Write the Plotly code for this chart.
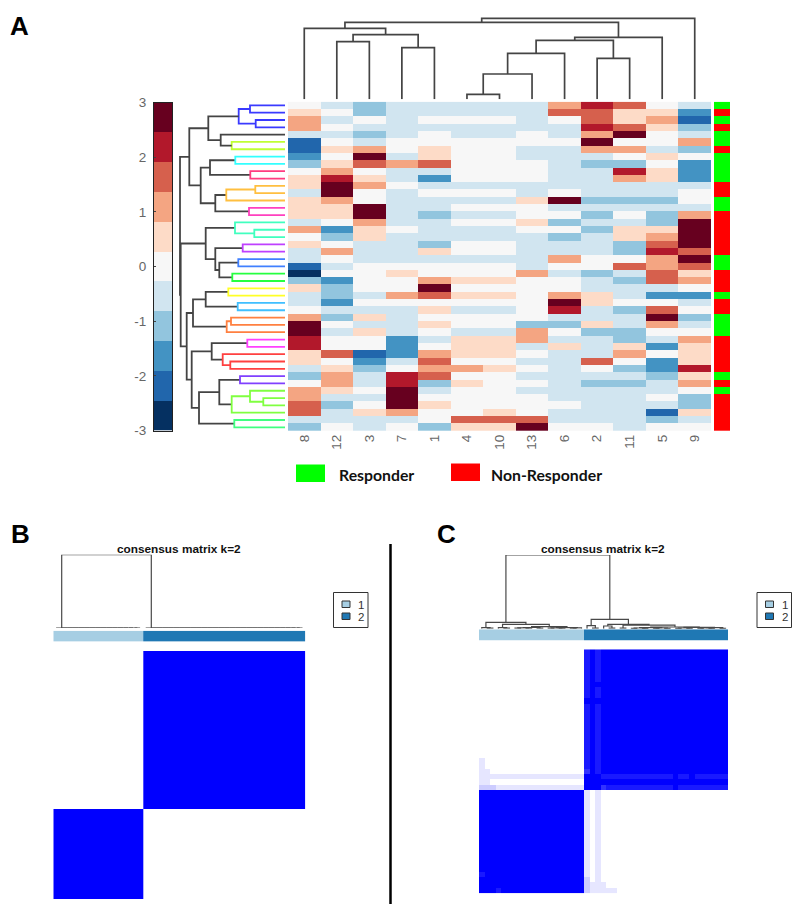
import plotly.graph_objects as go

W, H = 800, 914

# ---------- Panel A data ----------
COLUMN_LABELS = ["8", "12", "3", "7", "1", "4", "10", "13", "6", "2", "11", "5", "9"]
HEAT = [
    [0, -1, -2, -1, -1, -1, -1, -1, 2, 4, 3, 0, -1],
    [1, 0, -2, -1, -1, -1, -1, -1, 3, 3, 1, 1, -3],
    [2, -1, 0, -1, 0, 0, 0, -1, 0, 3, 1, 2, -4],
    [2, 0, -1, -1, -1, -1, -1, -1, -1, 4, 3, 1, -2],
    [-1, -1, -2, -1, 0, -1, -1, 0, -1, 2, 5, 0, -1],
    [-4, 0, -1, 0, 0, 0, 0, 0, 0, 5, 0, 0, 2],
    [-4, 1, 2, 0, 1, 0, 0, -1, -1, 2, 2, -1, -2],
    [-3, 0, 5, -1, 1, 0, 0, -1, -1, -1, 0, 1, 0],
    [-2, 1, 3, 2, 3, 0, 0, 0, -1, -2, -2, 0, -3],
    [0, 2, 0, -1, -1, 0, 0, 0, -1, -1, 4, 1, -3],
    [1, 4, 1, -1, -3, 0, 0, 0, -1, -1, 2, 1, -3],
    [1, 5, 2, 0, -1, -1, -1, -1, -1, -1, -1, -1, -1],
    [-1, 5, 0, -1, 0, 0, 0, -1, 0, -1, -1, -1, 0],
    [1, 2, 0, -1, -1, -1, -1, 1, 5, -2, -2, -2, 0],
    [1, 1, 5, -1, -1, 0, 0, 0, -1, -1, -1, -1, -1],
    [1, 1, 5, -1, -2, -1, -1, 0, 0, -2, 0, -2, 2],
    [-1, 0, 2, -1, -1, 0, 0, 1, -2, -1, -1, -2, 5],
    [2, -3, 1, 0, -1, -1, -1, 0, 0, -2, 1, 1, 5],
    [0, -2, 1, -1, -1, -1, -1, -1, -2, -1, 1, 2, 5],
    [1, 0, -1, -1, -2, 0, 0, -1, -1, -1, -2, 3, 5],
    [-1, 2, -1, -1, 1, 0, 0, -1, -1, -1, -2, 4, 3],
    [-1, 0, -1, -1, -1, -1, -1, -1, 2, 0, 0, 2, 5],
    [-4, -1, 0, 0, 0, 0, 0, -1, 0, 0, 3, 2, 3],
    [-5, 0, 0, 1, 0, 0, 0, 2, -1, -2, -1, 3, 1],
    [-2, -3, 0, 0, 2, 1, 1, 0, 0, -1, -2, 3, 2],
    [1, -2, 0, 0, 5, 0, 0, 0, 0, -1, -1, -1, 0],
    [-1, -2, -1, 2, 3, 1, 1, 0, 2, 1, -1, -3, -3],
    [-1, -3, 0, 0, 0, 0, 0, 0, 5, 1, 0, 0, -1],
    [0, -1, -1, -1, 1, -1, -1, 0, 4, -1, -2, 3, 0],
    [2, -2, 1, -1, 0, 0, 0, 0, -1, -1, -1, 5, -2],
    [5, 0, -1, -1, 1, 0, 0, -2, -2, 1, -1, 2, -1],
    [5, -1, 1, -1, 0, -1, -1, 2, 0, -2, -2, 0, 0],
    [4, 0, 0, -3, -1, 1, 1, 2, -1, -1, -2, -1, 2],
    [4, 0, 0, -3, 0, 1, 1, -1, 1, -1, 1, -3, 1],
    [1, 3, -4, -3, 2, 1, 1, 0, -1, -1, 2, 0, 1],
    [1, 0, -3, -1, 3, 0, 0, -1, -1, 3, 0, -3, 1],
    [-1, 1, -2, 0, 2, 2, 1, 0, -1, 0, -2, -3, 4],
    [-2, 2, -1, 4, 3, 0, 0, -1, -1, -1, -1, -2, 1],
    [0, 2, -1, 4, -2, 1, 0, 0, -1, -2, -2, -1, 2],
    [2, 1, 0, 5, -1, 0, 0, -1, -1, -1, -1, -1, 0],
    [2, -1, -1, 5, 0, 0, 0, 0, -1, -1, -1, 0, -2],
    [3, -2, 0, 5, 1, 0, 0, 0, 0, -1, -1, -1, -2],
    [3, -1, 1, 2, 0, 0, 1, 0, -1, -1, -1, -4, 1],
    [-1, -1, -1, -1, 0, 3, 3, 3, -1, -1, -1, -2, -1],
    [-2, 0, -1, 0, -2, 1, 1, 5, 0, 0, -1, 0, 0],
]
RESPONSE = [1, 0, 1, 0, 1, 1, 0, 1, 1, 1, 1, 0, 0, 1, 1, 0, 0, 0, 0, 0, 0, 1, 1,
            0, 0, 0, 1, 0, 0, 1, 1, 1, 0, 0, 0, 0, 0, 1, 0, 1, 0, 0, 0, 0, 0]
LEVELS = [-5, -4, -3, -2, -1, 0, 1, 2, 3, 4, 5]
SCALE_TICKS = [-3, -2, -1, 0, 1, 2, 3]
RDBU = ["#053061", "#2166ac", "#4393c3", "#92c5de", "#d1e5f0", "#f7f7f7",
        "#fddbc7", "#f4a582", "#d6604d", "#b2182b", "#67001f"]

DK = "#444444"
BL, LM, CY, PK, OR, MG, TL, PU, B2, GR, YL, SK, O2, M2, RD, VI, LG, G2 = (
    "#3a3aff", "#bfff33", "#33ffff", "#ff3d80", "#ffbf40", "#ff40bf", "#40ffbf", "#bf40ff",
    "#4080ff", "#26ff40", "#ffff26", "#40bfff", "#ff8040", "#ff40ff", "#ff4040", "#8040ff",
    "#80ff40", "#40ff80")
ROW_A = [0, 2, 45, 5, 4, 47, 7, 9, 51, 11, 54, 14, 55, 53, 50, 17, 16, 19, 21, 23, 63, 62,
         61, 25, 27, 68, 29, 71, 70, 32, 35, 34, 74, 37, 40, 39, 80, 78, 43, 82, 77, 73, 67, 59]
ROW_B = [1, 3, 46, 6, 48, 49, 8, 10, 52, 12, 13, 15, 56, 57, 58, 18, 60, 20, 22, 24, 64, 65,
         66, 26, 28, 69, 30, 31, 72, 33, 36, 75, 76, 38, 41, 79, 42, 81, 44, 83, 84, 85, 86, 87]
ROW_H = [35, 29.3, 46.3, 53.3, 64.3, 76.7, 49.7, 34.7, 75, 29.7, 58.7, 36, 69.7, 84.3, 95.7,
         30.7, 50, 42.3, 46.7, 52.7, 65.7, 69.7, 79.3, 56.7, 47.3, 79.3, 54, 58.3, 92, 37.7,
         54.7, 62.3, 73.3, 45, 21.7, 35, 53.3, 65.7, 50.7, 86, 93.3, 98.3, 104.3, 105]
ROW_C = [BL, BL, BL, LM, DK, DK, CY, PK, DK, OR, OR, MG, DK, DK, DK, TL, TL, PU, B2, GR, DK, DK,
         DK, YL, SK, DK, O2, O2, DK, M2, RD, RD, DK, VI, LG, LG, LG, DK, G2, DK, DK, DK, DK, DK]

COL_A = [1, 3, 13, 0, 5, 17, 18, 9, 19, 21, 16, 23]
COL_B = [2, 4, 14, 15, 6, 7, 8, 10, 20, 11, 22, 12]
COL_H = [57.7, 51.7, 64.7, 71, 5, 25.3, 46, 41, 59, 62, 77, 81]

# ---------- Panels B and C data ----------
CLUSTER_SIZES_B = [16, 29]
CLUSTER_SIZES_C = [19, 26]
BLOCK_Z = [[1, 0], [0, 1]]
BLOCK_Y_EDGES = [0, 16.28, 45]
B_A = [14, 13, 12, 11, 10, 9, 8, 7, 6, 5, 4, 3, 2, 1, 0,
       43, 42, 41, 40, 39, 38, 37, 36, 35, 34, 33, 32, 31, 30, 29, 28, 27, 26, 25, 24, 23, 22,
       21, 20, 19, 18, 17, 16, 59]
B_B = [15, 45, 46, 47, 48, 49, 50, 51, 52, 53, 54, 55, 56, 57, 58,
       44, 60, 61, 62, 63, 64, 65, 66, 67, 68, 69, 70, 71, 72, 73, 74, 75, 76, 77, 78, 79, 80,
       81, 82, 83, 84, 85, 86, 87]
B_H = [0] * 43 + [73.3]

C_A = [1, 0, 4, 3, 6, 8, 49, 10, 51, 12, 14, 54, 16, 18, 56, 53, 48, 46,
       20, 19, 23, 22, 25, 27, 29, 68, 31, 33, 71, 70, 35, 37, 75, 39, 41, 78, 43, 80, 77, 74,
       67, 66, 64, 62]
C_B = [2, 45, 5, 47, 7, 9, 50, 11, 52, 13, 15, 55, 17, 57, 58, 59, 60, 61,
       21, 63, 24, 65, 26, 28, 30, 69, 32, 34, 72, 73, 36, 38, 76, 40, 42, 79, 44, 81, 82, 83,
       84, 85, 86, 87]
C_H = [.6, 1, .6, 1, .5, .5, .8, .5, 1.2, .5, .5, .8, .5, .8, 1, 2, 4.3, 6.3,
       .6, 3, .6, 2.7, .6, .4, .4, .7, .4, .4, .7, 1, .4, .4, .7, .4, .4, .7, .4, 1, 1.3, 1.7,
       3.5, 4.3, 9.3, 73.7]

C_SAMPLE_19 = [.2, .2, .2, .1, .1, .1, .1, .1, .1, .1, .1, .1, .1, .1, .1, .1, .1, .1, .1,
               1, 1, 1, .8, .9, .9, .9, .9, .9, .9, .9, .9, .9, .9, .9, .9, 1, .9, .9, .9, .9,
               .9, .9, .9, .9, .9]
C_SAMPLE_21 = [.1, .1, .1, .1, .1, .1, .1, .1, .1, .1, .1, .1, .1, .1, .1, .1, .1, .1, .1,
               1, 1, 1, .9, .9, .9, .9, .9, .9, .9, .9, .9, .9, .9, .9, .9, 1, .9, .9, 1, .9,
               .9, .9, .9, .9, .9]
C_EXTRA_I = [20, 22, 23, 24, 20, 22, 3]
C_EXTRA_J = [0, 0, 0, 0, 1, 1, 0]
C_EXTRA_V = [.1, .1, .1, .1, .1, .1, .9]


# ---------- helpers ----------
fig = go.Figure()
axis_no = [0]


def axes(x0, x1, y_top, y_bottom, xr, yr):
    axis_no[0] += 1
    k = axis_no[0]
    s = "" if k == 1 else str(k)
    xa = dict(domain=[x0 / W, x1 / W], range=xr, anchor="y" + s, visible=False, showgrid=False, zeroline=False,
              automargin=False)
    ya = dict(domain=[1 - y_bottom / H, 1 - y_top / H], range=yr, anchor="x" + s, visible=False,
              showgrid=False, zeroline=False, automargin=False)
    fig.layout["xaxis" + s] = xa
    fig.layout["yaxis" + s] = ya
    return "x" + s, "y" + s, "xaxis" + s, "yaxis" + s


def tree_lines(a, b, h, colors, n, horizontal=False, offset=0.0):
    pos = {i: i + offset for i in range(n)}
    ht = {i: 0.0 for i in range(n)}
    out = {}
    for k, (p, q, hh) in enumerate(zip(a, b, h)):
        c = colors if isinstance(colors, str) else colors[k]
        xs, ys = out.setdefault(c, ([], []))
        ph, qh = ht[p], ht[q]
        pp, qp = pos[p], pos[q]
        ps = [pp, pp, qp, qp, None]
        hs = [ph, hh, hh, qh, None]
        if horizontal:
            xs += hs
            ys += ps
        else:
            xs += ps
            ys += hs
        pos[n + k] = (pp + qp) / 2
        ht[n + k] = hh
    return out


def draw_tree(lines, xa, ya, width):
    for color, (xs, ys) in lines.items():
        fig.add_trace(go.Scatter(x=xs, y=ys, xaxis=xa, yaxis=ya, mode="lines", showlegend=False,
                                 hoverinfo="skip", line=dict(color=color, width=width)))


def text(x, y, s, size, color="black", bold=False, family="Liberation Sans", anchor="left"):
    fig.add_annotation(xref="paper", yref="paper", x=x / W, y=1 - y / H, text=f"<b>{s}</b>" if bold else s,
                       showarrow=False, xanchor=anchor, yanchor="middle",
                       font=dict(family=family, size=size, color=color))


def rect(x0, y0, x1, y1, fill=None, line=None, w=1):
    fig.add_shape(type="rect", xref="paper", yref="paper", x0=x0 / W, x1=x1 / W, y0=1 - y0 / H, y1=1 - y1 / H,
                  fillcolor=fill, line=dict(color=line, width=w if line else 0))


def disc(colors):
    n = len(colors)
    out = []
    for i, c in enumerate(colors):
        out += [[i / n, c], [(i + 1) / n, c]]
    return out


# ---------- Panel A ----------
n_rows, n_cols = len(HEAT), len(COLUMN_LABELS)
Xa, Ya, xn, yn = axes(288, 711, 101.7, 431, [-0.5, n_cols - 0.5], [n_rows - 0.5, -0.5])
fig.layout[xn].update(visible=True, showline=False, ticks="", tickmode="array",
                      tickvals=list(range(n_cols)), ticktext=COLUMN_LABELS, tickangle=-90,
                      tickfont=dict(family="Liberation Sans", size=13.5, color="#666666"))
fig.add_trace(go.Heatmap(z=HEAT, xaxis=Xa, yaxis=Ya, zmin=-5.5, zmax=5.5, colorscale=disc(RDBU),
                         showscale=False, hoverinfo="skip", zsmooth=False))

Xa, Ya, _, _ = axes(140, 285, 101.7, 431, [145, 0], [n_rows - 0.5, -0.5])
draw_tree(tree_lines(ROW_A, ROW_B, ROW_H, ROW_C, n_rows, horizontal=True), Xa, Ya, 1.8)

Xa, Ya, _, _ = axes(288, 711, 5, 99.3, [-0.5, n_cols - 0.5], [0, 94.3])
draw_tree(tree_lines(COL_A, COL_B, COL_H, DK, n_cols), Xa, Ya, 1.7)

Xa, Ya, _, _ = axes(714, 730, 101.7, 431, [-0.5, 0.5], [n_rows - 0.5, -0.5])
fig.add_trace(go.Heatmap(z=[[v] for v in RESPONSE], xaxis=Xa, yaxis=Ya, zmin=0, zmax=1,
                         colorscale=disc(["#ff0000", "#00ff00"]), showscale=False, hoverinfo="skip"))

span = SCALE_TICKS[-1] - SCALE_TICKS[0]
Xa, Ya, xn, yn = axes(154, 172, 102.5, 430.5, [0, 1], [SCALE_TICKS[0], SCALE_TICKS[-1]])
fig.layout[xn].update(visible=True, showticklabels=False, ticks="", showline=True, mirror=True,
                      linecolor="#222222", linewidth=1)
fig.layout[yn].update(visible=True, showline=True, mirror=True, linecolor="#222222", linewidth=1,
                      ticks="inside", ticklen=2, tickcolor="#444444", tickmode="array",
                      tickvals=SCALE_TICKS, ticktext=[str(t) for t in SCALE_TICKS],
                      ticklabelstandoff=4,
                      tickfont=dict(family="Liberation Sans", size=13.5, color="#666666"))
fig.add_trace(go.Heatmap(z=[[v] for v in LEVELS], x=[0.5],
                         y=[v * span / len(LEVELS) for v in LEVELS], xaxis=Xa, yaxis=Ya,
                         zmin=-5.5, zmax=5.5, colorscale=disc(RDBU), showscale=False, hoverinfo="skip"))

rect(296, 464.5, 325, 482, fill="#00ff00")
rect(451, 463.5, 480, 481, fill="#ff0000")
text(337, 474.5, "Responder", 15.8, "#111111", True, "Lato")
text(489, 474.5, "Non-Responder", 15.8, "#111111", True, "Lato")

text(8, 26, "A", 26, "black", True)
text(9, 534, "B", 26, "black", True)
text(435, 534, "C", 26, "black", True)

fig.add_shape(type="line", xref="paper", yref="paper", x0=390.5 / W, x1=390.5 / W, y0=1 - 544 / H, y1=1 - 904 / H,
              line=dict(color="black", width=2.5))

# ---------- Panels B, C shared drawing ----------
BAR_COLORS = ["#a6cee3", "#1f78b4"]
BLUES = [[0, "#ffffff"], [1, "#0000ff"]]


def panel(x0, x1, sizes, tree, top, base, bar_top, bar_bot, mat_top, mat_bot, title_x, legend_x):
    n = sum(sizes)
    text(title_x, 549, "consensus matrix k=2", 11.8, "#111111", True, anchor="center")
    Xa, Ya, _, _ = axes(x0, x1, top, base, [0, n], [0, base - top])
    draw_tree(tree_lines(tree[0], tree[1], tree[2], "#484848", n, offset=0.5), Xa, Ya, 1.2)
    Xa, Ya, _, _ = axes(x0, x1, bar_top, bar_bot, [0, n], [0, 1])
    edges = [0, sizes[0], n]
    fig.add_trace(go.Heatmap(z=[[0, 1]], x=edges, y=[0, 1], xaxis=Xa, yaxis=Ya, zmin=0, zmax=1,
                             colorscale=disc(BAR_COLORS), showscale=False, hoverinfo="skip"))
    rect(legend_x, 592.5, legend_x + 34.5, 627.5, line="#333333", w=1)
    for i, (y0, lab) in enumerate([(601, "1"), (613, "2")]):
        rect(legend_x + 8.5, y0, legend_x + 16.5, y0 + 6.5, fill=BAR_COLORS[i], line="#333333", w=1)
        text(legend_x + 22.5, y0 + 3.5, lab, 11.5, "#333333")
    return axes(x0, x1, mat_top, mat_bot, [0, n], [0, n])[:2], edges, n


(Xa, Ya), edges, n = panel(53.3, 305.3, CLUSTER_SIZES_B, (B_A, B_B, B_H), 554.7, 628, 630.7, 641.5,
                           651, 899, 179, 333.5)
fig.add_trace(go.Heatmap(z=BLOCK_Z, x=edges, y=BLOCK_Y_EDGES, xaxis=Xa, yaxis=Ya, zmin=0, zmax=1,
                         colorscale=BLUES, showscale=False, hoverinfo="skip"))

(Xa, Ya), edges, n = panel(479, 728.3, CLUSTER_SIZES_C, (C_A, C_B, C_H), 555, 628.7, 629.3, 640.7,
                           649.3, 893.3, 603, 757)
s1 = CLUSTER_SIZES_C[0]
M = [[1.0 if (i < s1) == (j < s1) else 0.0 for j in range(n)] for i in range(n)]
for s, row in ((19, C_SAMPLE_19), (21, C_SAMPLE_21)):
    for j, v in enumerate(row):
        M[s][j] = v
        M[j][s] = v
for i, j, v in zip(C_EXTRA_I, C_EXTRA_J, C_EXTRA_V):
    M[i][j] = v
    M[j][i] = v
fig.add_trace(go.Heatmap(z=M, x=[i + 0.5 for i in range(n)], y=[i + 0.5 for i in range(n)],
                         xaxis=Xa, yaxis=Ya, zmin=0, zmax=1, colorscale=BLUES,
                         showscale=False, hoverinfo="skip", zsmooth=False))

fig.update_layout(width=W, height=H, margin=dict(l=0, r=0, t=0, b=0), paper_bgcolor="white",
                  plot_bgcolor="rgba(0,0,0,0)", showlegend=False)
fig.write_html("out.html", config=dict(displayModeBar=False),
               post_script="document.body.style.margin='0';")
